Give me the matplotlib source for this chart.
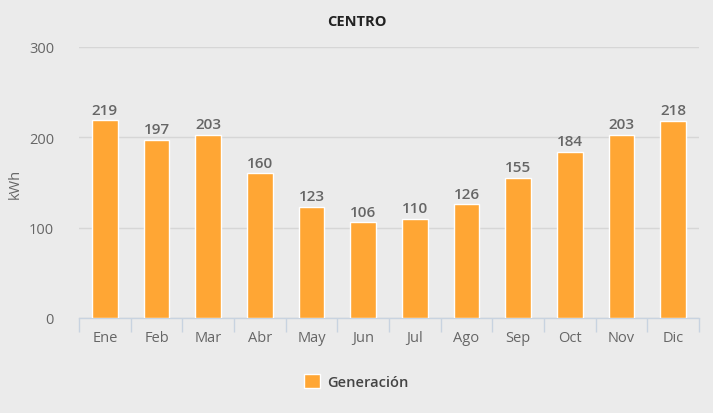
import numpy as np
from matplotlib import pyplot as plt

plt.rcParams['font.family'] = ['Open Sans', 'DejaVu Sans']

#Datos de generación mensual
meses = ["Ene", "Feb", "Mar", "Abr", "May", "Jun", "Jul", "Ago", "Sep", "Oct", "Nov", "Dic"]
generacion = [219, 197, 203, 160, 123, 106, 110, 126, 155, 184, 203, 218]

fondo = "#EBEBEB"
naranja = "#FFA634"
gris = "#666666"

fig = plt.figure(figsize=(7.13, 4.14), dpi=100)
fig.patch.set_facecolor(fondo)
ax = fig.add_axes([0.1108, 0.2295, 0.8696, 0.6546])
ax.set_facecolor(fondo)

x = np.arange(len(meses))
barras = ax.bar(x, generacion, width=0.5, color=naranja, edgecolor="white", linewidth=1, zorder=3, label="Generación")

for xi, v in zip(x, generacion):
    ax.text(xi, v + 4, str(v), ha="center", va="bottom", fontsize=11, fontweight="semibold", color=gris, zorder=4)

ax.set_xlim(-0.5, len(meses) - 0.5)
ax.set_ylim(0, 300)
ax.set_yticks([0, 100, 200, 300])
ax.grid(axis="y", color="#D6D6D6", linewidth=1, zorder=0)
ax.set_xticks(x)
ax.set_xticklabels(meses)
ax.set_xticks(np.arange(-0.5, len(meses)), minor=True)
ax.tick_params(axis="x", which="major", length=0, pad=9, labelsize=10.5, labelcolor=gris)
ax.tick_params(axis="x", which="minor", length=10, color="#C8D3E0", width=1)
ax.tick_params(axis="y", length=0, pad=18, labelsize=10.5, labelcolor=gris)
for s in ["top", "right", "left"]:
    ax.spines[s].set_visible(False)
ax.spines["bottom"].set_color("#C8D3E0")
ax.spines["bottom"].set_linewidth(1)

ax.set_ylabel("kWh", color=gris, fontsize=10.5, labelpad=2)
ax.yaxis.set_label_coords(-0.09, 0.5)

fig.text(0.5, 0.948, "CENTRO", ha="center", va="center", fontsize=10.5, fontweight="bold", color="#222222")

fig.legend(handles=[barras], loc="center", bbox_to_anchor=(0.5, 0.077), frameon=False,
           handlelength=1.1, handleheight=1.1, handletextpad=0.5,
           prop={"size": 10.5, "weight": "semibold"}, labelcolor="#444444")

plt.savefig("out.png", dpi=100, facecolor=fondo)
